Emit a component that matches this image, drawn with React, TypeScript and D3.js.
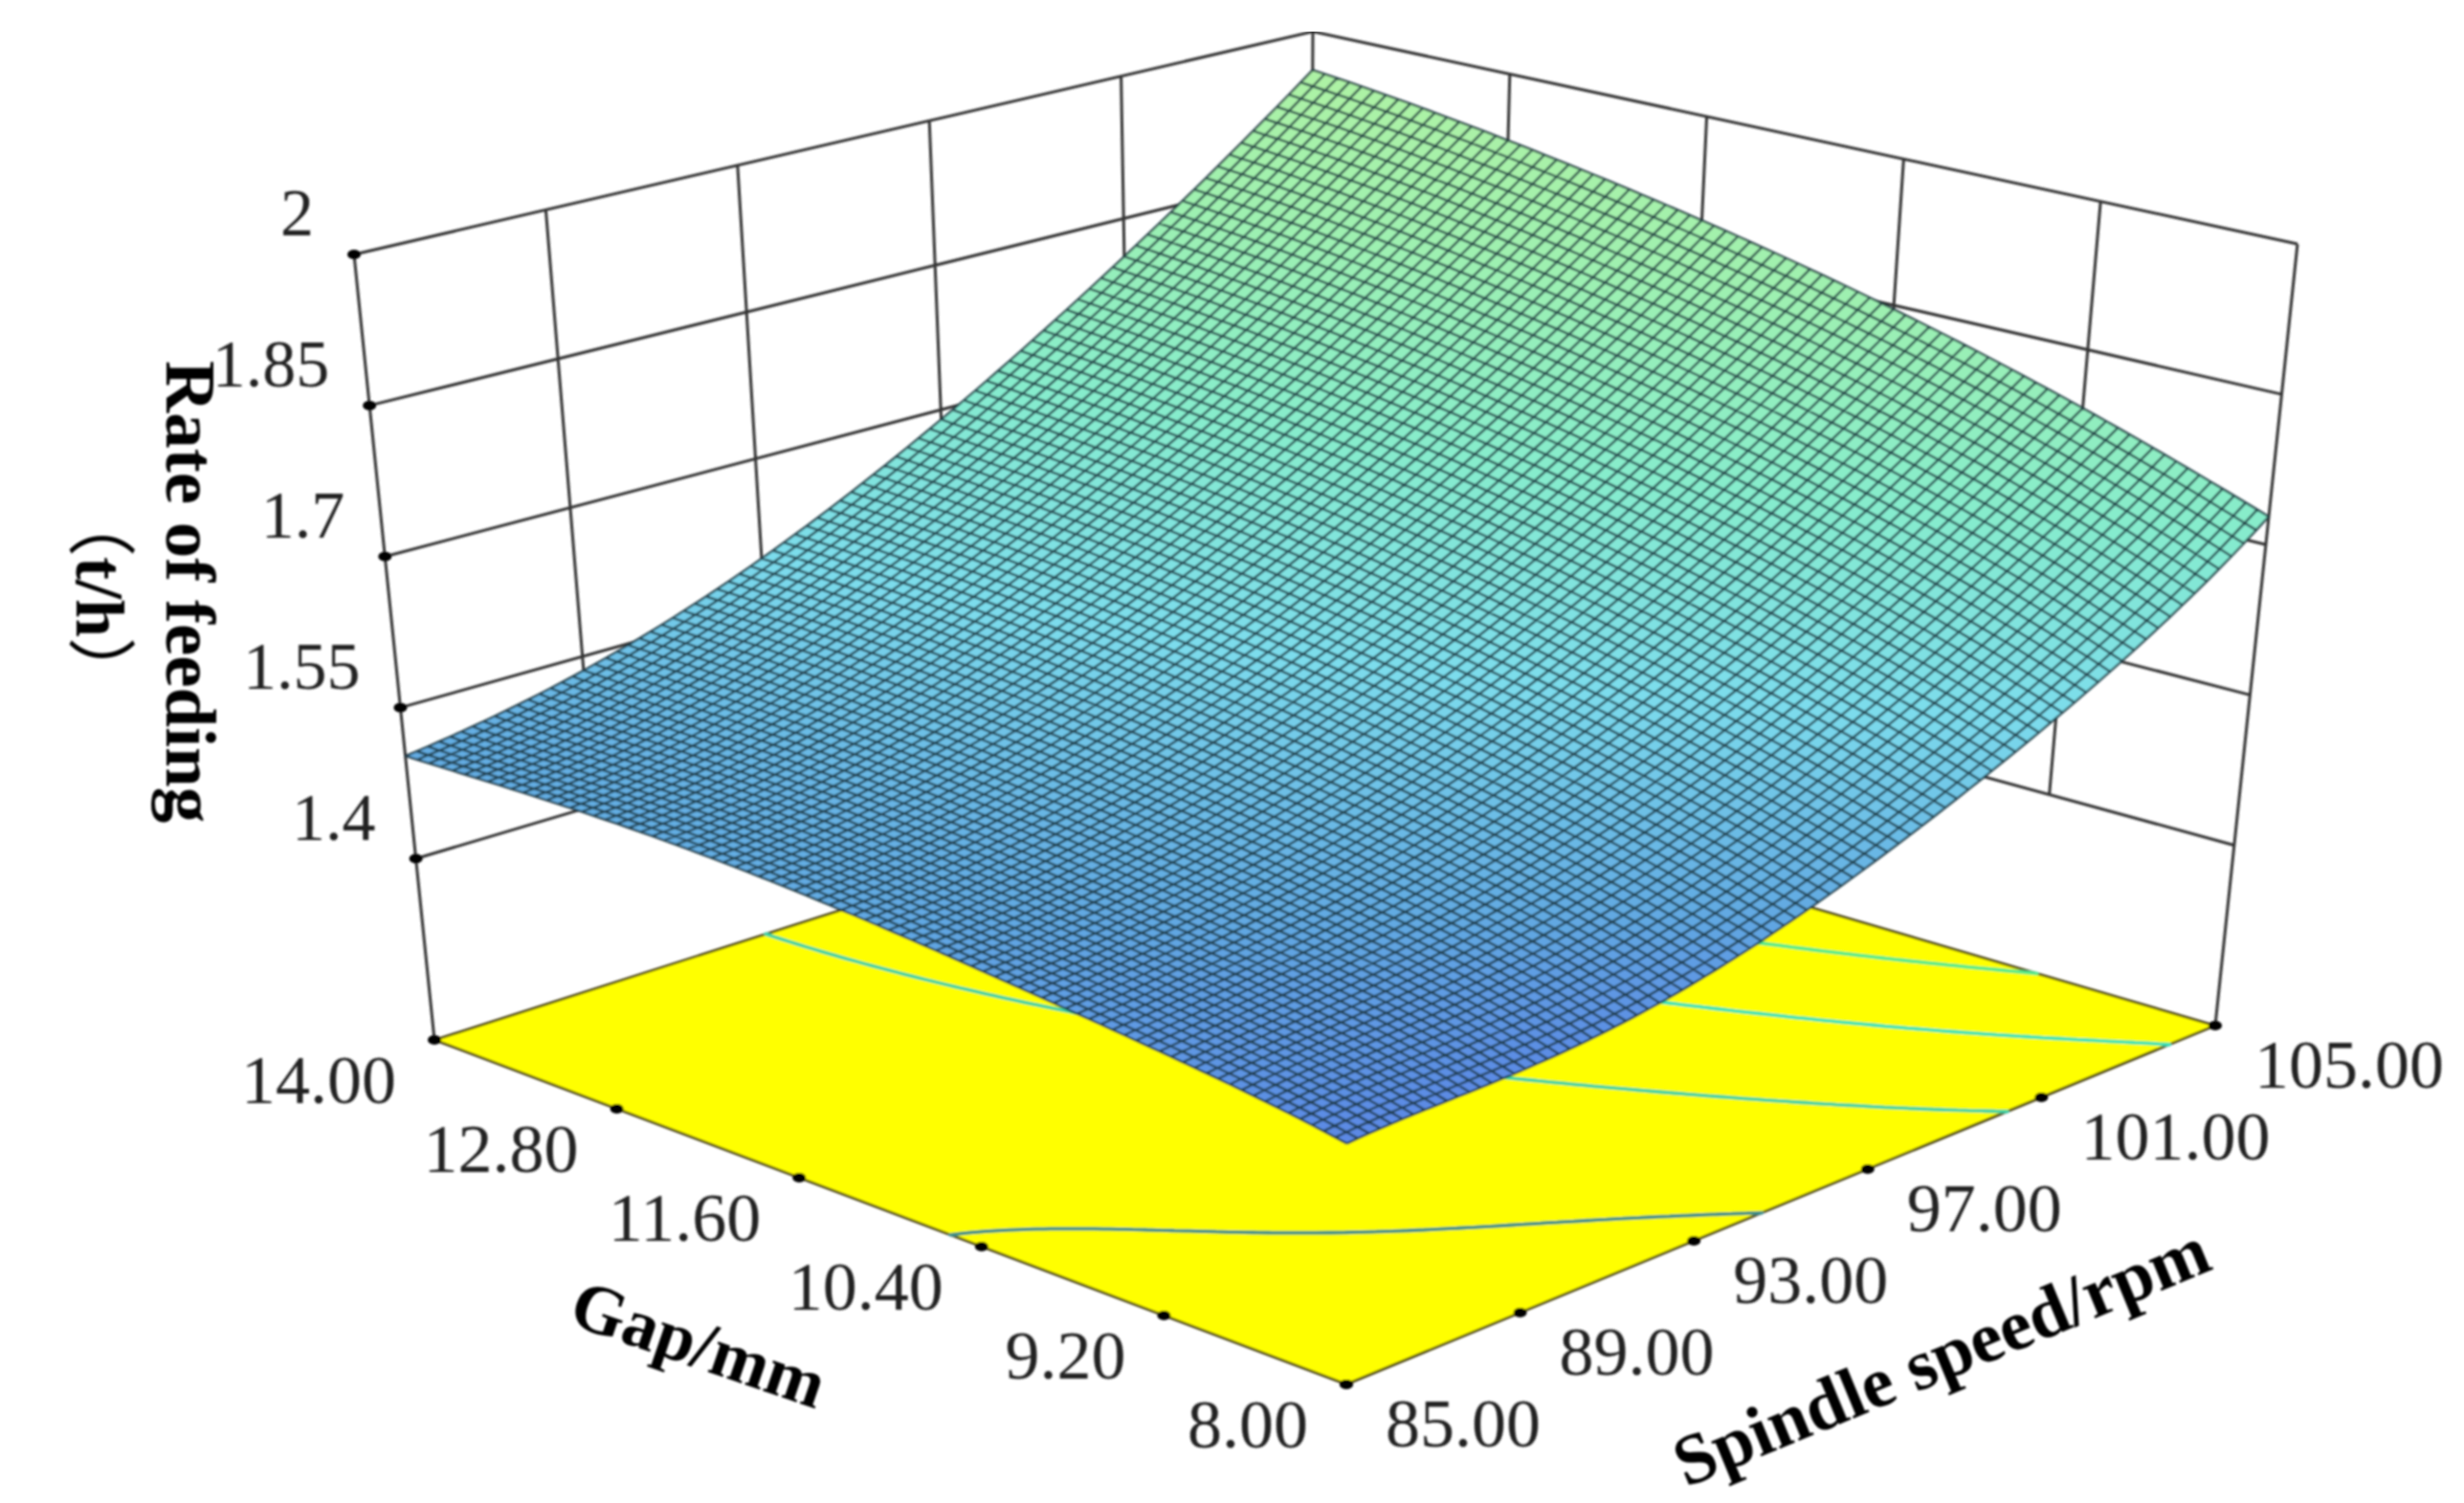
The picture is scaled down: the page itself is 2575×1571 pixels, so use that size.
import React from "react";
import * as d3 from "d3";

const WIDTH = 2575;
const HEIGHT = 1571;

const gapTicks = [8, 9.2, 10.4, 11.6, 12.8, 14];
const speedTicks = [85, 89, 93, 97, 101, 105];
const rateTicks = [1.4, 1.55, 1.7, 1.85, 2];
const rateFloor = 1.22;

const rateAtGap8 = [1.443, 1.449, 1.472, 1.527, 1.608, 1.728];
const rateAtGap92 = [1.468, 1.485, 1.516, 1.575, 1.667, 1.791];
const rateAtGap104 = [1.487, 1.506, 1.547, 1.615, 1.715, 1.846];
const rateAtGap116 = [1.502, 1.523, 1.571, 1.648, 1.755, 1.892];
const rateAtGap128 = [1.507, 1.533, 1.589, 1.673, 1.787, 1.93];
const rateAtGap14 = [1.502, 1.536, 1.598, 1.69, 1.81, 1.959];
const rateTable = [rateAtGap8, rateAtGap92, rateAtGap104, rateAtGap116, rateAtGap128, rateAtGap14];

const contourLevels = [1.49, 1.59, 1.69, 1.79];
const contourColors = ["#3c8f8c", "#3fd2a6", "#38e2b8", "#52ea8e"];

const rampRates = [1.44, 1.5, 1.6, 1.72, 1.85, 1.96];
const rampColors = ["#5a86e4", "#62aae2", "#7cdcec", "#86eccc", "#9ef0b0", "#aef2a4"];

// the cube corners on the page, [bottom, top], s = 0 gap 8 .. 1 gap 14, t = 0 speed 85 .. 1 speed 105
const cornerFront = [[1407, 1447], [1409, 567]];
const cornerLeft = [[454, 1087], [370, 266]];
const cornerRight = [[2315, 1072], [2401, 255]];
const cornerBack = [[1368, 795], [1372, 33]];

const MESH = 80;

const sScale = d3.scaleLinear().domain([8, 14]).range([0, 1]);
const tScale = d3.scaleLinear().domain([85, 105]).range([0, 1]);
const wScale = d3.scaleLinear().domain([rateFloor, 2]).range([0, 1]);
const rateColor = d3.scaleLinear<string>().domain(rampRates).range(rampColors);

const project = (s: number, t: number, w: number): [number, number] => {
    const at = (c: number[][], k: number) => c[0][k] + (c[1][k] - c[0][k]) * w;
    const mix = (k: number) =>
        (1 - s) * (1 - t) * at(cornerFront, k) +
        s * (1 - t) * at(cornerLeft, k) +
        (1 - s) * t * at(cornerRight, k) +
        s * t * at(cornerBack, k);
    return [mix(0), mix(1)];
};

const lagrange = (knots: number[], u: number) =>
    knots.map((ki, i) =>
        knots.reduce((acc, kj, j) => (i === j ? acc : (acc * (u - kj)) / (ki - kj)), 1)
    );

// the table only holds the tick crossings, the fine mesh between them is smoothed from it
const sKnots = gapTicks.map(sScale);
const tKnots = speedTicks.map(tScale);
const rateAt = (s: number, t: number) => {
    const ls = lagrange(sKnots, s);
    const lt = lagrange(tKnots, t);
    return d3.sum(rateTable, (row, i) => ls[i] * d3.sum(row, (v, j) => lt[j] * v));
};

const onSurface = (s: number, t: number) => project(s, t, wScale(rateAt(s, t)));

const line = d3.line();
const steps = d3.range(MESH + 1).map((i) => i / MESH);

const floorPath = () =>
    line([project(0, 0, 0), project(1, 0, 0), project(1, 1, 0), project(0, 1, 0)]) + "Z";

const buildContours = () => {
    const n = 121;
    const values = new Float64Array(n * n);
    for (let j = 0; j < n; j++) {
        for (let i = 0; i < n; i++) {
            values[i + j * n] = rateAt(i / (n - 1), j / (n - 1));
        }
    }
    const gen = d3.contours().size([n, n]).thresholds(contourLevels);
    const onEdge = (p: number[]) => p[0] <= 0 || p[0] >= n || p[1] <= 0 || p[1] >= n;
    const toFloor = (p: number[]) =>
        project(
            Math.max(0, Math.min(1, (p[0] - 0.5) / (n - 1))),
            Math.max(0, Math.min(1, (p[1] - 0.5) / (n - 1))),
            0
        );
    return gen(Array.from(values)).map((c) => {
        let d = "";
        c.coordinates.forEach((poly) =>
            poly.forEach((ring) => {
                for (let k = 1; k < ring.length; k++) {
                    if (onEdge(ring[k - 1]) || onEdge(ring[k])) continue;
                    d += line([toFloor(ring[k - 1]), toFloor(ring[k])]);
                }
            })
        );
        return d;
    });
};

const Grid = () => {
    const wTop = wScale(2);
    const wLow = wScale(rateTicks[0]);
    const paths: string[] = [];
    rateTicks.forEach((r) => {
        const w = wScale(r);
        paths.push(line([project(1, 0, w), project(1, 1, w), project(0, 1, w)]));
    });
    speedTicks.slice(1, -1).forEach((v) => {
        const t = tScale(v);
        paths.push(line([project(1, t, wLow), project(1, t, wTop)]));
    });
    gapTicks.slice(1, -1).forEach((v) => {
        const s = sScale(v);
        paths.push(line([project(s, 1, wLow), project(s, 1, wTop)]));
    });
    [[1, 0], [1, 1], [0, 1]].forEach(([s, t]) => {
        paths.push(line([project(s, t, 0), project(s, t, wTop)]));
    });
    return <path d={paths.join("")} fill="none" stroke="#333" strokeWidth={3} />;
};

const Surface = () => {
    const cells = [];
    for (let i = 0; i < MESH; i++) {
        for (let j = 0; j < MESH; j++) {
            const s0 = steps[i], s1 = steps[i + 1];
            const t0 = steps[j], t1 = steps[j + 1];
            const fill = rateColor(rateAt((s0 + s1) / 2, (t0 + t1) / 2));
            cells.push(
                <path
                    key={`${i}-${j}`}
                    d={line([onSurface(s0, t0), onSurface(s1, t0), onSurface(s1, t1), onSurface(s0, t1)]) + "Z"}
                    fill={fill}
                    stroke={fill}
                    strokeWidth={0.6}
                />
            );
        }
    }
    const isoS = steps.map((s) => line(steps.map((t) => onSurface(s, t)))).join("");
    const isoT = steps.map((t) => line(steps.map((s) => onSurface(s, t)))).join("");
    return (
        <g>
            {cells}
            <path d={isoS + isoT} fill="none" stroke="#17303a" strokeOpacity={0.85} strokeWidth={2.4} />
        </g>
    );
};

const tickFont = { fontFamily: "'Liberation Serif'", fontSize: 72, fill: "#222" };
const titleFont = { fontFamily: "'Liberation Serif'", fontWeight: 700, fill: "#000" };

const App = () => {
    const contourPaths = buildContours();
    return (
        <svg
            width={WIDTH}
            height={HEIGHT}
            viewBox={`0 0 ${WIDTH} ${HEIGHT}`}
            style={{ position: "absolute", left: 0, top: 0, background: "#fff" }}
        >
            <defs>
                <filter id="soft" x="0" y="0" width="100%" height="100%">
                    <feGaussianBlur stdDeviation="0.8" />
                </filter>
            </defs>
            <g filter="url(#soft)">
                <Grid />
                <path d={floorPath()} fill="#ffff00" stroke="#4a4312" strokeWidth={2.6} />
                {contourPaths.map((d, i) => (
                    <path key={i} d={d} fill="none" stroke={contourColors[i]} strokeWidth={3.8} strokeLinecap="round" />
                ))}
                <Surface />

                {gapTicks.map((v) => {
                    const [x, y] = project(sScale(v), 0, 0);
                    return (
                        <g key={v}>
                            <ellipse cx={x} cy={y} rx={7} ry={5} fill="#000" />
                            <text x={x - 40} y={y + 66} textAnchor="end" {...tickFont}>
                                {v.toFixed(2)}
                            </text>
                        </g>
                    );
                })}
                {speedTicks.map((v) => {
                    const [x, y] = project(0, tScale(v), 0);
                    return (
                        <g key={v}>
                            <ellipse cx={x} cy={y} rx={7} ry={5} fill="#000" />
                            <text x={x + 41} y={y + 65} {...tickFont}>
                                {v.toFixed(2)}
                            </text>
                        </g>
                    );
                })}
                {rateTicks.map((v) => {
                    const [x, y] = project(1, 0, wScale(v));
                    return (
                        <g key={v}>
                            <ellipse cx={x} cy={y} rx={7} ry={5} fill="#000" />
                            <text x={x - 42} y={y - 20} textAnchor="end" {...tickFont} fontSize={70}>
                                {String(v)}
                            </text>
                        </g>
                    );
                })}

                <text transform="translate(174,377) rotate(90)" fontSize={75} {...titleFont}>
                    Rate of feeding
                </text>
                <text transform="translate(80,510) rotate(90)" fontSize={72} {...titleFont}>
                    <tspan fontFamily="'Noto Sans CJK SC'" fontWeight={400}>（</tspan>
                    t/h
                    <tspan fontFamily="'Noto Sans CJK SC'" fontWeight={400}>）</tspan>
                </text>
                <text transform="translate(592,1383) rotate(19)" fontSize={73} {...titleFont}>
                    Gap/mm
                </text>
                <text transform="translate(1762,1555) rotate(-22.5)" fontSize={75} {...titleFont}>
                    Spindle speed/rpm
                </text>
            </g>
        </svg>
    );
};

export default App;
